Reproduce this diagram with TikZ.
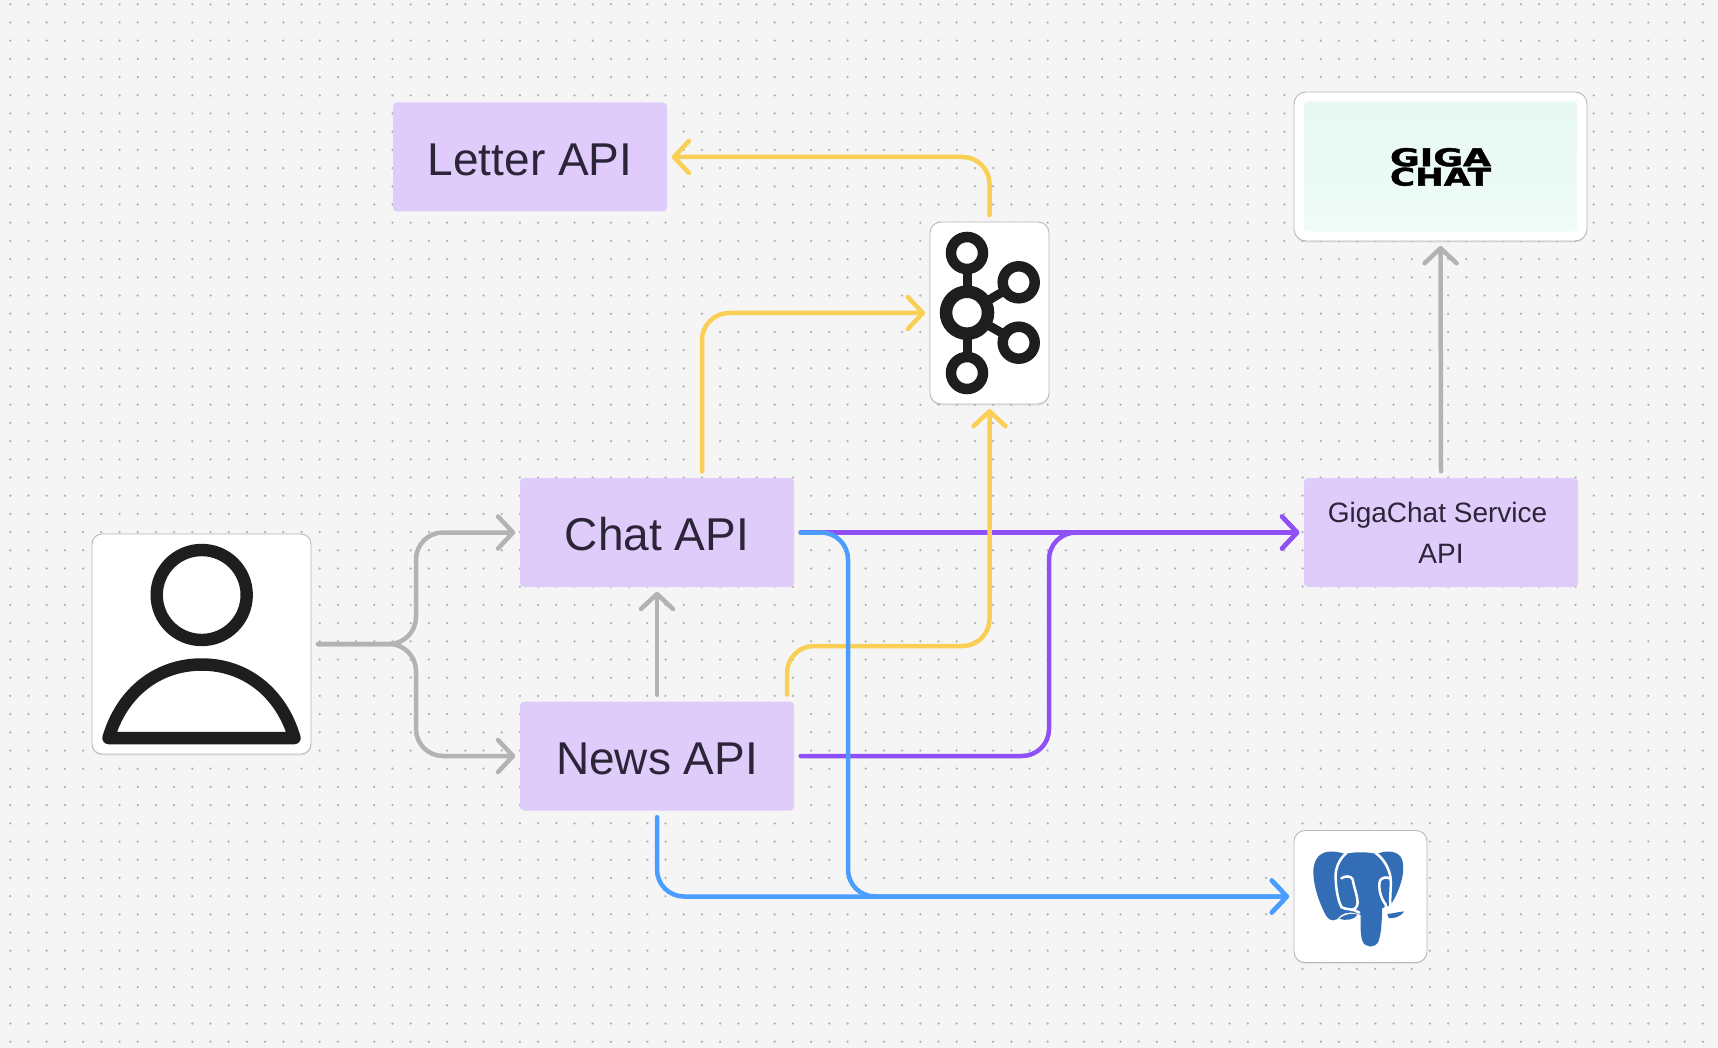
\documentclass[tikz,border=0pt]{standalone}
\usepackage{fontspec}
\setmainfont{Liberation Sans}
\newfontfamily\logofont[FakeBold=1.6]{DejaVu Sans Bold}
\usetikzlibrary{arrows.meta}
\definecolor{bgc}{HTML}{F5F5F5}
\definecolor{dotc}{HTML}{B0B0B0}
\definecolor{apifill}{HTML}{E0CCFA}
\definecolor{inkc}{HTML}{2C2438}
\definecolor{frameline}{HTML}{B8B8B8}
\definecolor{darkicon}{HTML}{1F1E1E}
\definecolor{pgblue}{HTML}{336DB5}
\definecolor{graylinec}{HTML}{B3B3B3}
\definecolor{purplec}{HTML}{9050F8}
\definecolor{yellowc}{HTML}{F9CF56}
\definecolor{bluec}{HTML}{4A9EFF}
\definecolor{minttop}{HTML}{E8F8F2}
\definecolor{mintbot}{HTML}{EFFCF7}
\tikzset{
  x=1pt,y=-1pt,
  api/.style={fill=apifill,rounded corners=4pt,inner sep=0pt,minimum width=274pt,minimum height=109pt,text=inkc,align=center,font=\fontsize{46}{50}\selectfont},
  card/.style={fill=white,draw=frameline,line width=0.9pt,inner sep=0pt,
     preaction={fill=black,opacity=.06,transform canvas={yshift=-1.6pt}}},
  link/.style={line width=4.5pt,line cap=round,rounded corners=27pt,shorten <=6.5pt,shorten >=4.5pt,
     -{Straight Barb[round,length=15pt,width=32pt]}},
  iconring/.style={draw=darkicon,fill=none},
  pgwhite/.style={draw=white,line width=2.5pt,line cap=round,line join=round,fill=none},
  dotrow/.style={draw=dotc,line width=2.5pt,line cap=round,dash pattern=on 0pt off 18.2pt},
}
\begin{document}
\begin{tikzpicture}
\useasboundingbox (0,0) rectangle (1718,1048);
\fill[bgc] (0,0) rectangle (1718,1048);
\foreach \j in {0,...,57}{\draw[dotrow] (10.3,{4.3+18.2*\j}) -- (1718,{4.3+18.2*\j});}

% cards and boxes
\node[api,text height=37pt,text depth=0pt] (letter) at (530,157) {Letter API};
\node[api,text height=36pt,text depth=0pt] (chat) at (657,532.5) {Chat API};
\node[api,text height=36pt,text depth=0pt] (news) at (657,756) {News API};
\node[api,font=\fontsize{28}{41}\selectfont] (gs) at (1441,532.5) {GigaChat Service\rule{7pt}{0pt}\\API};
\node[card,rounded corners=10pt,minimum width=219pt,minimum height=220pt] (user) at (201.5,644) {};
\node[card,rounded corners=11pt,minimum width=119pt,minimum height=182pt] (kafka) at (989.5,313) {};
\node[card,rounded corners=12pt,minimum width=293pt,minimum height=149pt] (giga) at (1440.5,166.5) {};
\node[card,rounded corners=11pt,minimum width=133pt,minimum height=132pt] (pg) at (1360.5,896.5) {};

% connector bends
\coordinate (grayv) at (416,644);
\coordinate (bluev) at (848,896.5);
\coordinate (purplev) at (1049,600);
\coordinate (yc) at (702,478);
\coordinate (yn) at (787,701);
\coordinate (yn2) at (787,646);

% connectors
\draw[link,graylinec] (user.east) -- (grayv) |- (chat.west);
\draw[link,graylinec] (user.east) -- (grayv) |- (news.west);
\draw[link,graylinec] (news.north) -- (chat.south);
\draw[link,graylinec] (gs.north) -- (giga.south);
\draw[link,purplec] (chat.east) -- (gs.west);
\draw[link,purplec] (news.east) -| (purplev) |- (gs.west);
\draw[link,yellowc] (kafka.north) |- (letter.east);
\draw[link,yellowc] (yc) |- (kafka.west);
\draw[link,yellowc] (yn) -- (yn2) -| (kafka.south);
\draw[link,bluec] (chat.east) -| (bluev) -- (pg.west);
\draw[link,bluec] (news.south) |- (pg.west);

% user icon
\draw[iconring,line width=12.4pt] (201.7,595) circle[radius=45pt];
\draw[iconring,line width=12.5pt,line join=round] (108.5,738) .. controls (122,692) and (158,664.5) .. (201.7,664.5) .. controls (245,664.5) and (281,692) .. (294.5,738) -- cycle;

% kafka icon
\begin{scope}[darkicon]
\draw[line width=9pt] (967,253) -- (967,373);
\draw[line width=9pt] (967,313) -- (1018.7,282.3);
\draw[line width=9pt] (967,313) -- (1018.7,342.7);
\foreach \p/\r/\w in {967/253/16,967/373/16,1018.7/282.3/16,1018.7/342.7/16}{
  \draw[fill=white,line width=10.5pt] (\p,\r) circle[radius=\w pt];}
\draw[fill=white,line width=12.5pt] (967,312.7) circle[radius=21pt];
\end{scope}

% gigachat logo
\node[top color=minttop,bottom color=mintbot,rounded corners=4pt,minimum width=273pt,minimum height=130pt,inner sep=0pt] (mint) at (giga.center) {};
\node[inner sep=0pt,align=center,text=black,font=\logofont\fontsize{25}{19.5}\selectfont] (logo) at (1440.5,167) {\resizebox{101pt}{18pt}{GIGA}\\\resizebox{101pt}{18pt}{CHAT}};

% postgres elephant
\begin{scope}[shift={(1270,810)},x=0.3333pt,y=-0.3333pt]
\fill[pgblue] (165,127) .. controls (185,122) and (205,125) .. (225,132)
  .. controls (255,125) and (290,125) .. (320,132)
  .. controls (345,122) and (375,120) .. (392,140)
  .. controls (410,170) and (395,225) .. (372,268)
  .. controls (365,285) and (350,292) .. (337,295)
  .. controls (335,330) and (335,370) .. (325,395)
  .. controls (315,415) and (285,415) .. (277,392)
  .. controls (270,370) and (272,340) .. (272,315)
  .. controls (250,305) and (225,305) .. (210,318)
  .. controls (200,335) and (180,335) .. (170,320)
  .. controls (150,285) and (130,230) .. (130,185)
  .. controls (130,155) and (145,132) .. (165,127) -- cycle;
\fill[pgblue] (208,325) .. controls (225,312) and (250,308) .. (262,314) .. controls (255,328) and (225,335) .. (208,325) -- cycle;
\fill[pgblue] (352,312) .. controls (370,310) and (390,305) .. (403,304) .. controls (395,318) and (370,328) .. (356,324) -- cycle;
% left head contour, around to the tusk
\draw[pgwhite] (228,130) .. controls (205,150) and (195,180) .. (197,205)
  .. controls (198,240) and (205,275) .. (215,292)
  .. controls (230,300) and (250,295) .. (268,308);
% left eye
\draw[pgwhite] (214,205) .. controls (225,197) and (243,197) .. (248,208)
  .. controls (252,235) and (266,265) .. (262,285) .. controls (258,295) and (252,298) .. (245,300);
% right head contour
\draw[pgwhite] (318,130) .. controls (340,145) and (358,175) .. (362,205)
  .. controls (364,240) and (358,265) .. (362,290)
  .. controls (375,300) and (390,300) .. (405,300);
% right eye
\draw[pgwhite] (330,212) .. controls (337,202) and (350,200) .. (358,205);
\draw[pgwhite] (330,212) .. controls (324,235) and (332,265) .. (348,285) .. controls (350,292) and (347,298) .. (340,298);
\end{scope}
\end{tikzpicture}
\end{document}
